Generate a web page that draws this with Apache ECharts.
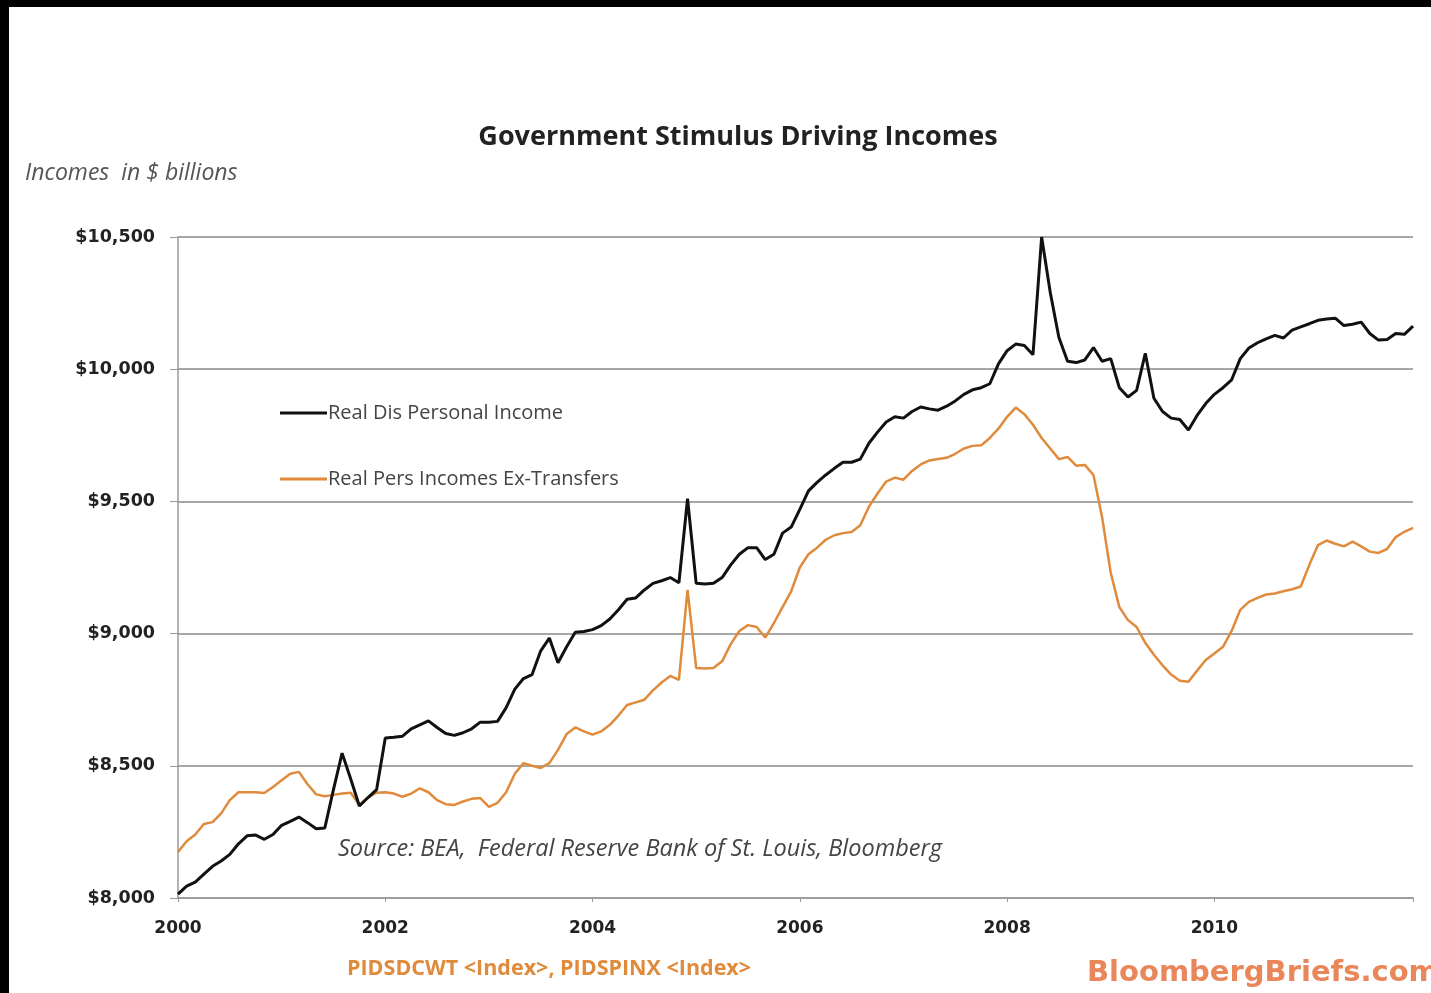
<!DOCTYPE html>
<html>
<head>
<meta charset="utf-8">
<script src="https://cdn.jsdelivr.net/npm/echarts@6/dist/echarts.min.js"></script>
<style>
html,body{margin:0;padding:0;background:#fff;}
#chart{width:1431px;height:993px;}
</style>
</head>
<body>
<div id="chart"></div>
<script>
// Monthly, Jan 2000 .. Dec 2011
const startYear = 2000;
const monthsCount = 144;
const yearTickLabels = ['2000','2002','2004','2006','2008','2010'];

const realDisPersonalIncome = [
  8015,8045,8060,8090,8120,8140,8165,8205,8235,8238,8222,8240,
  8275,8290,8306,8285,8262,8265,8410,8548,8450,8348,8380,8410,
  8605,8608,8612,8640,8655,8670,8645,8622,8615,8625,8640,8665,
  8665,8668,8720,8790,8830,8845,8935,8983,8890,8950,9005,9008,
  9015,9030,9055,9090,9130,9135,9165,9190,9200,9212,9192,9510,
  9190,9188,9190,9212,9260,9300,9325,9325,9280,9300,9380,9403,
  9470,9540,9572,9600,9625,9648,9648,9660,9720,9762,9800,9820,
  9815,9840,9857,9850,9845,9860,9880,9905,9922,9930,9945,10020,
  10070,10095,10090,10055,10500,10290,10120,10030,10025,10035,10082,10030,
  10040,9930,9895,9920,10060,9890,9840,9815,9810,9770,9825,9870,
  9905,9930,9960,10040,10080,10100,10115,10128,10118,10148,10160,10172,
  10185,10190,10193,10165,10170,10178,10135,10110,10112,10135,10132,10163
];

const realPersIncomesExTransfers = [
  8174,8215,8240,8280,8287,8320,8370,8400,8400,8400,8397,8420,
  8445,8470,8477,8430,8392,8385,8390,8395,8398,8352,8380,8398,
  8400,8395,8383,8395,8415,8400,8370,8355,8352,8365,8375,8378,
  8345,8360,8400,8470,8510,8500,8492,8510,8560,8620,8645,8630,
  8618,8630,8655,8690,8730,8740,8750,8785,8815,8840,8825,9165,
  8870,8868,8870,8895,8960,9010,9032,9025,8985,9040,9100,9160,
  9250,9300,9325,9355,9372,9380,9384,9410,9480,9530,9575,9590,
  9582,9615,9640,9655,9660,9665,9680,9700,9710,9712,9740,9775,
  9820,9855,9830,9790,9740,9700,9660,9668,9635,9638,9600,9440,
  9230,9100,9051,9025,8965,8920,8880,8845,8822,8818,8860,8900,
  8925,8950,9010,9090,9120,9135,9148,9152,9160,9168,9178,9260,
  9335,9352,9340,9330,9348,9330,9310,9305,9320,9365,9385,9400
];

const yTicks = [8000, 8500, 9000, 9500, 10000, 10500];

const monthCategories = [];
for (let i = 0; i < monthsCount; i++) {
  const y = startYear + Math.floor(i / 12);
  const m = (i % 12) + 1;
  monthCategories.push(y + '-' + (m < 10 ? '0' + m : m));
}

const chart = echarts.init(document.getElementById('chart'), null, {renderer: 'canvas'});

const option = {
  backgroundColor: '#ffffff',
  animation: false,
  title: {
    text: 'Government Stimulus Driving Incomes',
    left: 733, top: 119, textAlign: 'center',
    textStyle: {fontFamily: 'Open Sans', fontWeight: 'bold', fontSize: 27, color: '#222'}
  },
  legend: {
    orient: 'vertical',
    left: 275, top: 398,
    itemWidth: 47, itemHeight: 3, itemGap: 46,
    icon: 'rect',
    textStyle: {fontFamily: 'Open Sans', fontSize: 20, color: '#444', padding: [0,0,0,-4]},
    data: ['Real Dis Personal Income', 'Real Pers Incomes Ex-Transfers']
  },
  grid: {left: 178, right: 18, top: 237, bottom: 95, containLabel: false},
  xAxis: {
    type: 'category',
    data: monthCategories,
    boundaryGap: false,
    axisLine: {show: true, lineStyle: {color: '#999', width: 1.5}},
    axisTick: {show: true, length: 4, inside: false, lineStyle: {color: '#999'},
      interval: function (idx) { return idx % 24 === 0 || idx === monthsCount - 1; }},
    axisLabel: {
      margin: 22,
      interval: function (idx) { return idx % 24 === 0; },
      formatter: function (v) { return v.slice(0, 4); },
      fontFamily: 'DejaVu Sans', fontWeight: 'bold', fontSize: 17, color: '#222'
    },
    splitLine: {show: false}
  },
  yAxis: {
    type: 'value',
    min: 8000, max: 10500, interval: 500,
    axisLine: {show: true, lineStyle: {color: '#999', width: 1.5}},
    axisTick: {show: true, length: 8, lineStyle: {color: '#999'}},
    axisLabel: {
      margin: 23,
      formatter: function (v) { return '$' + v.toLocaleString('en-US'); },
      fontFamily: 'DejaVu Sans', fontWeight: 'bold', fontSize: 17.5, color: '#222'
    },
    splitLine: {show: true, lineStyle: {color: '#8a8a8a', width: 1.5}}
  },
  series: [
    {
      name: 'Real Dis Personal Income',
      type: 'line',
      data: realDisPersonalIncome,
      showSymbol: false,
      symbol: 'none',
      lineStyle: {color: '#111', width: 3},
      itemStyle: {color: '#111'},
      z: 3
    },
    {
      name: 'Real Pers Incomes Ex-Transfers',
      type: 'line',
      data: realPersIncomesExTransfers,
      showSymbol: false,
      symbol: 'none',
      lineStyle: {color: '#e08a3c', width: 2.5},
      itemStyle: {color: '#e08a3c'},
      z: 2
    }
  ],
  graphic: [
    {type: 'rect', left: 0, top: 0, shape: {width: 1431, height: 7}, style: {fill: '#000'}, z: 100},
    {type: 'rect', left: 0, top: 0, shape: {width: 9, height: 993}, style: {fill: '#000'}, z: 100},
    {type: 'text', left: 25, top: 162, style: {text: 'Incomes  in $ billions', font: 'italic 23px "Open Sans"', fill: '#555'}},
    {type: 'text', left: 338, top: 838, style: {text: 'Source: BEA,  Federal Reserve Bank of St. Louis, Bloomberg', font: 'italic 23.5px "Open Sans"', fill: '#444'}},
    {type: 'text', left: 347, top: 958, style: {text: 'PIDSDCWT <Index>, PIDSPINX <Index>', font: 'bold 21.5px "Open Sans"', fill: '#e08a3c'}},
    {type: 'text', left: 1087, top: 959, style: {text: 'BloombergBriefs.com', font: 'bold 29px "DejaVu Sans"', fill: '#e9865a'}}
  ]
};

chart.setOption(option);
</script>
</body>
</html>
